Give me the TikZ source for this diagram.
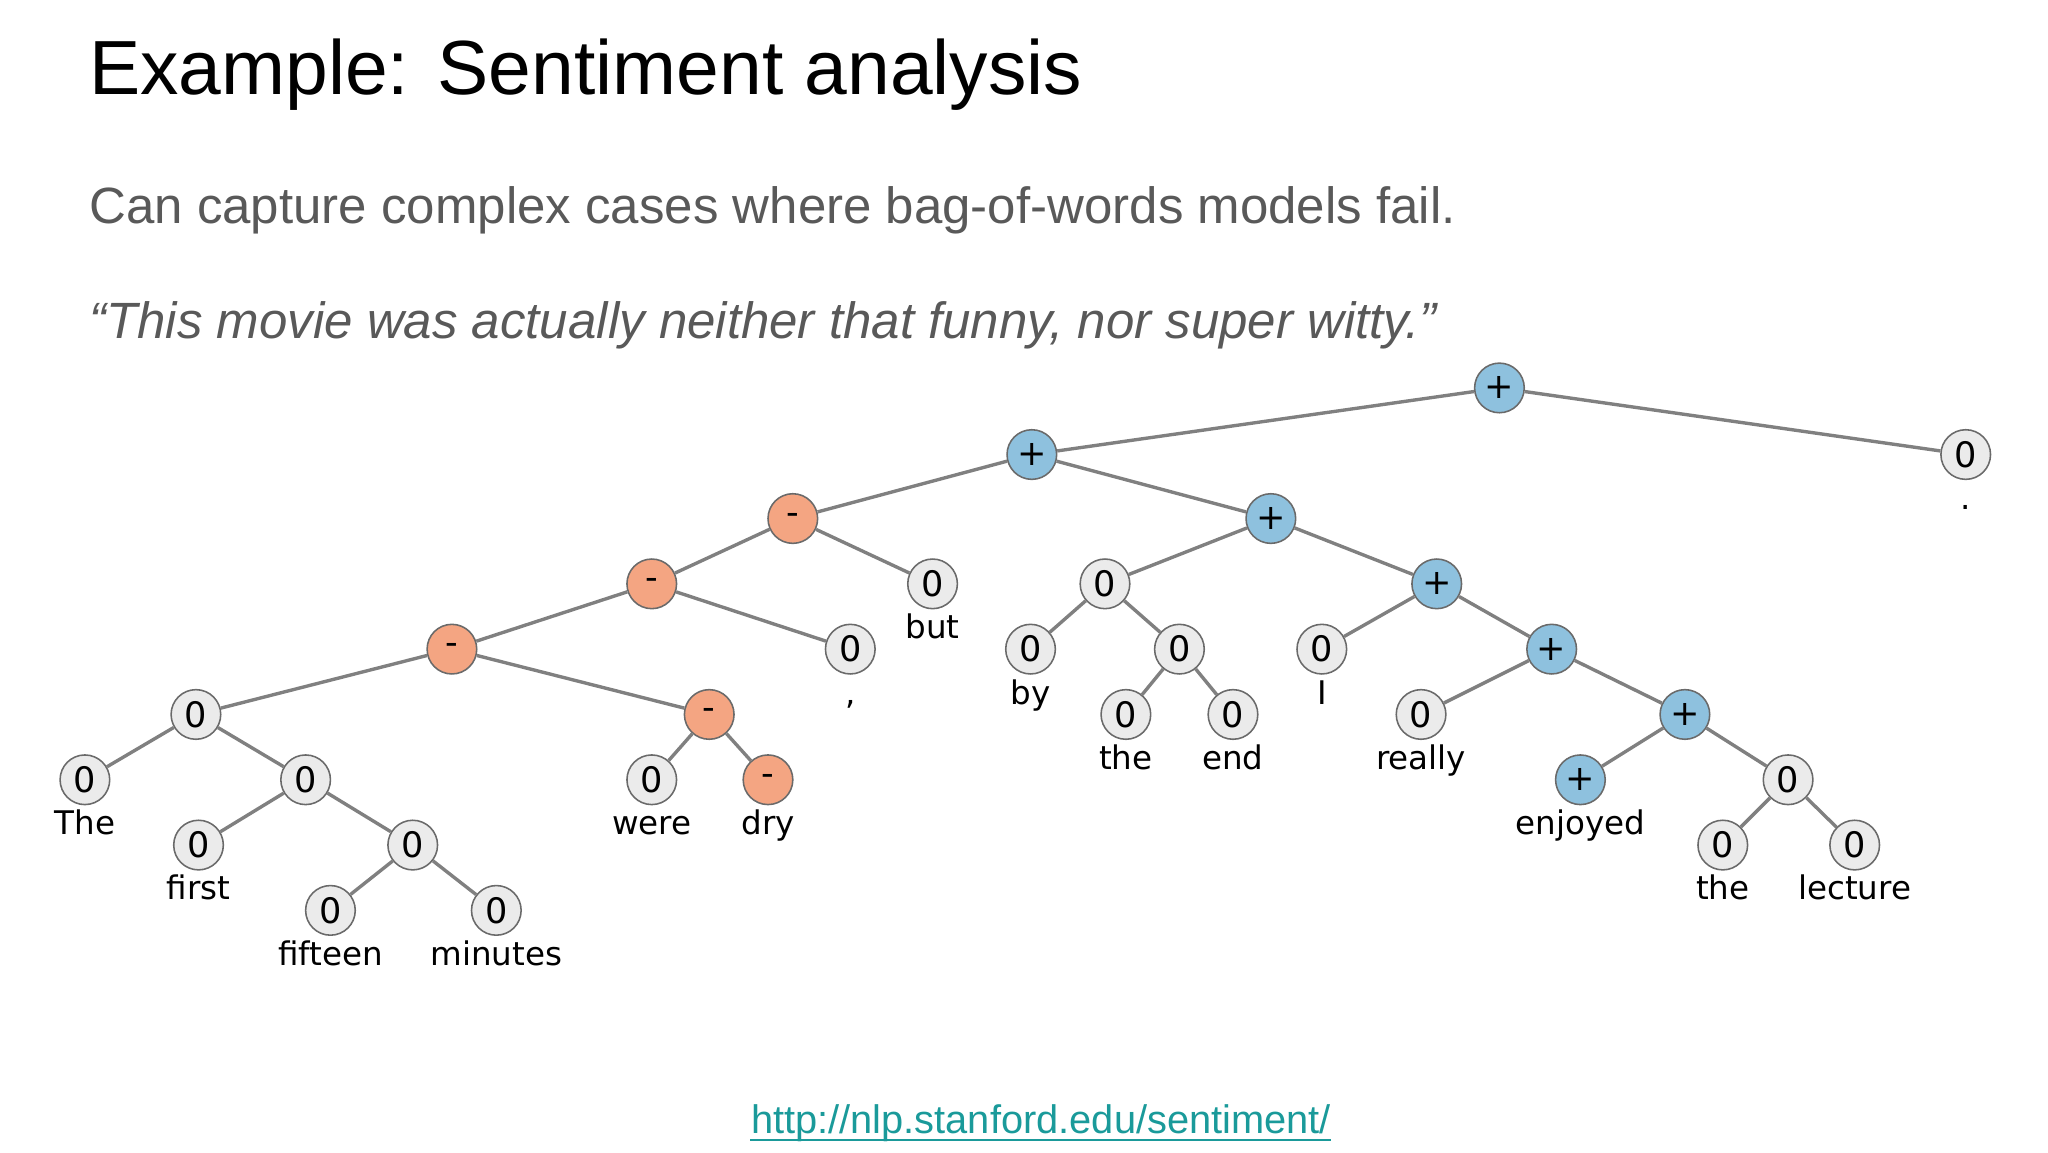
\documentclass[tikz,border=0pt]{standalone}
\usepackage{fontspec}
\setmainfont{Liberation Sans}
\newfontfamily\treefont{DejaVu Sans}
\usepackage{xcolor}
\definecolor{posc}{HTML}{8EC1DE}
\definecolor{negc}{HTML}{F4A582}
\definecolor{neuc}{HTML}{EBEBEB}
\definecolor{edgec}{HTML}{808080}
\definecolor{bordc}{HTML}{6A6A6A}
\definecolor{txtgray}{HTML}{595959}
\definecolor{linkc}{HTML}{1A9A9A}
\begin{document}
\begin{tikzpicture}[x=0.5bp,y=-0.5bp,
  tn/.style={circle,draw=bordc,line width=0.6pt,minimum size=19bp,inner sep=0pt,font=\treefont\fontsize{13.5}{14}\selectfont},
  posn/.style={tn,fill=posc},
  negn/.style={tn,fill=negc},
  neun/.style={tn,fill=neuc},
  wl/.style={font=\treefont\fontsize{12.5}{13}\selectfont,anchor=base},
  ed/.style={draw=edgec,line width=1.3pt}]
\useasboundingbox (0,0) rectangle (1568,882);
\node[anchor=base west,font=\fontsize{29.5}{33}\selectfont,inner sep=0pt] (title) at (68,72) {Example: Sentiment analysis};
\node[anchor=base west,font=\fontsize{19.6}{22}\selectfont,text=txtgray,inner sep=0pt] (sub) at (68,171) {Can capture complex cases where bag-of-words models fail.};
\node[anchor=base west,font=\itshape\fontsize{19.6}{22}\selectfont,text=txtgray,inner sep=0pt] (quote) at (68,259) {“This movie was actually neither that funny, nor super witty.”};
\node[font=\fontsize{15.3}{17}\selectfont,text=linkc,inner sep=0pt] (url) at (797,860) {http://nlp.stanford.edu/sentiment/};
\draw[linkc,line width=0.6pt] ([yshift=-2.5bp]url.base west) -- ([yshift=-2.5bp]url.base east);

\node[posn] (root) at (1148,297) {+};
\node[neun] (dot) at (1505,348) {0};
\node[posn] (A) at (790,348) {+};
\node[negn] (B) at (607,397) {-};
\node[posn] (C) at (973,397) {+};
\node[negn] (D) at (499,447) {-};
\node[neun] (but) at (714,447) {0};
\node[neun] (E) at (846,447) {0};
\node[posn] (F) at (1100,447) {+};
\node[negn] (G) at (346,497) {-};
\node[neun] (comma) at (651,497) {0};
\node[neun] (by) at (789,497) {0};
\node[neun] (H) at (903,497) {0};
\node[neun] (I) at (1012,497) {0};
\node[posn] (J) at (1188,497) {+};
\node[neun] (K) at (150,547) {0};
\node[negn] (L) at (543,547) {-};
\node[neun] (theA) at (862,547) {0};
\node[neun] (endn) at (944,547) {0};
\node[neun] (really) at (1088,547) {0};
\node[posn] (M) at (1290,547) {+};
\node[neun] (The) at (65,597) {0};
\node[neun] (N) at (234,597) {0};
\node[neun] (were) at (499,597) {0};
\node[negn] (dry) at (588,597) {-};
\node[posn] (enjoyed) at (1210,597) {+};
\node[neun] (O) at (1369,597) {0};
\node[neun] (first) at (152,647) {0};
\node[neun] (P) at (316,647) {0};
\node[neun] (theB) at (1319,647) {0};
\node[neun] (lecture) at (1420,647) {0};
\node[neun] (fifteen) at (253,697) {0};
\node[neun] (minutes) at (380,697) {0};

\foreach \n/\t in {dot/., but/but, comma/{,}, by/by, I/I, theA/the, endn/end, really/really, The/The, were/were, dry/dry, enjoyed/enjoyed, first/first, theB/the, lecture/lecture, fifteen/fifteen, minutes/minutes}
  \node[wl] (w\n) at ([yshift=-21bp]\n.center) {\t};

\foreach \a/\b in {root/A,root/dot,A/B,A/C,B/D,B/but,C/E,C/F,D/G,D/comma,E/by,E/H,H/theA,H/endn,F/I,F/J,G/K,G/L,J/really,J/M,K/The,K/N,L/were,L/dry,M/enjoyed,M/O,N/first,N/P,O/theB,O/lecture,P/fifteen,P/minutes}
  \draw[ed] (\a) -- (\b);
\end{tikzpicture}
\end{document}
